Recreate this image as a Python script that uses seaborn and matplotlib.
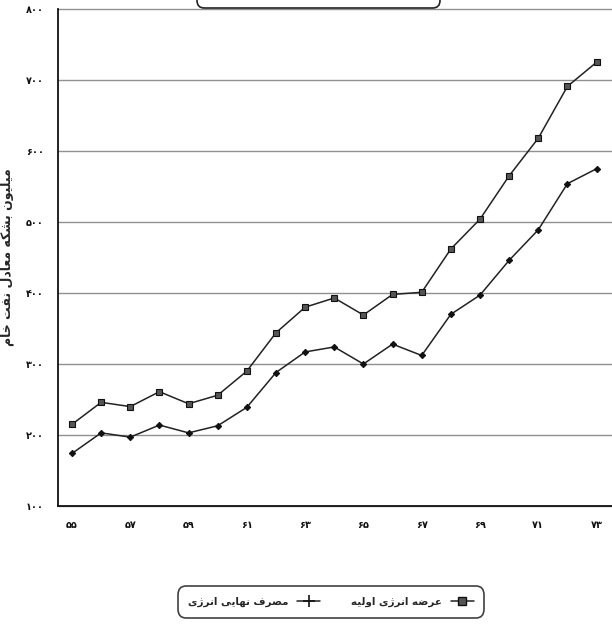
import matplotlib
matplotlib.use("Agg")
import matplotlib.pyplot as plt
from matplotlib.lines import Line2D
from matplotlib.patches import FancyBboxPatch
from matplotlib.ticker import FixedLocator, FuncFormatter
import numpy as np
import pandas as pd
import seaborn as sns

# Years (Iranian calendar, 1355-1373) and energy totals (million barrels oil equivalent)
years = [55, 56, 57, 58, 59, 60, 61, 62, 63, 64, 65, 66, 67, 68, 69, 70, 71, 72, 73]
primary_supply = [215, 246, 240, 261, 244, 256, 290, 344, 380, 393, 369, 398, 401, 462, 504, 565, 618, 691, 725]
final_consumption = [174, 203, 197, 214, 203, 213, 239, 288, 317, 324, 300, 328, 312, 370, 397, 446, 489, 554, 575]
y_ticks = [100, 200, 300, 400, 500, 600, 700, 800]
x_label_years = [55, 57, 59, 61, 63, 65, 67, 69, 71, 73]

label_primary = "عرضه انرژی اولیه"
label_final = "مصرف نهایی انرژی"
label_y = "میلیون بشکه معادل نفت خام"

# --- minimal Persian shaping: contextual presentation forms + visual (RTL) order ---
# forms: (isolated, final, initial, medial); right-joining letters have only two
FORMS = {
    "ا": ("\uFE8D", "\uFE8E"),
    "ب": ("\uFE8F", "\uFE90", "\uFE91", "\uFE92"),
    "ت": ("\uFE95", "\uFE96", "\uFE97", "\uFE98"),
    "خ": ("\uFEA5", "\uFEA6", "\uFEA7", "\uFEA8"),
    "د": ("\uFEA9", "\uFEAA"),
    "ر": ("\uFEAD", "\uFEAE"),
    "ز": ("\uFEAF", "\uFEB0"),
    "ژ": ("\uFB8A", "\uFB8B"),
    "ش": ("\uFEB5", "\uFEB6", "\uFEB7", "\uFEB8"),
    "ص": ("\uFEB9", "\uFEBA", "\uFEBB", "\uFEBC"),
    "ض": ("\uFEBD", "\uFEBE", "\uFEBF", "\uFEC0"),
    "ع": ("\uFEC9", "\uFECA", "\uFECB", "\uFECC"),
    "ف": ("\uFED1", "\uFED2", "\uFED3", "\uFED4"),
    "ک": ("\uFB8E", "\uFB8F", "\uFB90", "\uFB91"),
    "ل": ("\uFEDD", "\uFEDE", "\uFEDF", "\uFEE0"),
    "م": ("\uFEE1", "\uFEE2", "\uFEE3", "\uFEE4"),
    "ن": ("\uFEE5", "\uFEE6", "\uFEE7", "\uFEE8"),
    "ه": ("\uFEE9", "\uFEEA", "\uFEEB", "\uFEEC"),
    "و": ("\uFEED", "\uFEEE"),
    "ی": ("\uFBFC", "\uFBFD", "\uFBFE", "\uFBFF"),
}


def shape(text):
    out = []
    n = len(text)
    for i, ch in enumerate(text):
        if ch not in FORMS:
            out.append(ch)
            continue
        prev = text[i - 1] if i > 0 else None
        nxt = text[i + 1] if i < n - 1 else None
        joins_prev = prev in FORMS and len(FORMS[prev]) == 4
        joins_next = len(FORMS[ch]) == 4 and nxt in FORMS
        f = FORMS[ch]
        if joins_prev and joins_next:
            out.append(f[3])
        elif joins_prev:
            out.append(f[1])
        elif joins_next:
            out.append(f[2])
        else:
            out.append(f[0])
    return "".join(reversed(out))


def fa_digits(v):
    return str(int(round(v))).translate(str.maketrans("0123456789", "۰۱۲۳۴۵۶۷۸۹"))


df = pd.DataFrame({"year": years, "primary": primary_supply, "final": final_consumption})

sns.set_style("white")
plt.rcParams["font.family"] = ["DejaVu Sans"]

fig = plt.figure(figsize=(6.12, 6.24), dpi=100)
ax = fig.add_axes([58 / 612, 118 / 624, 554 / 612, 497 / 624])

sns.lineplot(data=df, x="year", y="primary", ax=ax, color="#222222", linewidth=1.1,
             marker="s", markersize=5, markerfacecolor="#555555",
             markeredgecolor="#111111", markeredgewidth=0.8)
sns.lineplot(data=df, x="year", y="final", ax=ax, color="#222222", linewidth=1.1,
             marker="D", markersize=3.2, markerfacecolor="#111111",
             markeredgecolor="#111111")

ax.set_xlim(54.52, 73.53)
ax.set_ylim(100, 800)

ax.yaxis.set_major_locator(FixedLocator(y_ticks))
ax.yaxis.set_major_formatter(FuncFormatter(lambda v, p: fa_digits(v)))
ax.xaxis.set_major_locator(FixedLocator(x_label_years))
ax.xaxis.set_minor_locator(FixedLocator(years))
ax.xaxis.set_major_formatter(FuncFormatter(lambda v, p: fa_digits(v)))

ax.tick_params(axis="both", which="both", direction="out", colors="#111111",
               labelsize=7, width=1.0)
ax.tick_params(axis="y", length=7, pad=3)
ax.tick_params(axis="x", which="major", length=6, pad=4)
ax.tick_params(axis="x", which="minor", length=5)
for lbl in ax.get_xticklabels() + ax.get_yticklabels():
    lbl.set_fontweight("bold")

ax.yaxis.grid(True, color="#909090", linewidth=1.0)
ax.xaxis.grid(False)
for side in ("top", "right"):
    ax.spines[side].set_visible(False)
for side in ("left", "bottom"):
    ax.spines[side].set_color("#111111")
    ax.spines[side].set_linewidth(1.3)
for gl in ax.get_ygridlines():
    gl.set_clip_on(False)

ax.set_xlabel("")
ax.set_ylabel(shape(label_y), fontsize=9, fontweight="bold", labelpad=9)

# legend: handles to the right of their texts
handles = [
    Line2D([], [], color="#222222", linewidth=1.1, marker="+", markersize=9,
           markeredgewidth=1.2, markeredgecolor="#111111", label=shape(label_final)),
    Line2D([], [], color="#222222", linewidth=1.1, marker="s", markersize=6,
           markerfacecolor="#555555", markeredgecolor="#111111", label=shape(label_primary)),
]
leg = fig.legend(handles=handles, loc="center", bbox_to_anchor=(331 / 612, 1 - 602 / 624),
                 ncol=2, markerfirst=False, frameon=True, fancybox=True,
                 prop={"size": 7.5, "weight": "bold"}, handlelength=2.2,
                 columnspacing=3.0, borderpad=1.0, handletextpad=0.8)
frame = leg.get_frame()
frame.set_edgecolor("#111111")
frame.set_linewidth(1.2)
frame.set_boxstyle("round,pad=0.02,rounding_size=0.8")

# title box partly above the top edge
fig.patches.append(FancyBboxPatch((197 / 612, 616 / 624), 243 / 612, 0.05,
                                  boxstyle="round,pad=0,rounding_size=0.012",
                                  transform=fig.transFigure, facecolor="none",
                                  edgecolor="#222222", linewidth=1.2))

fig.savefig("out.png", dpi=100, facecolor="white")
